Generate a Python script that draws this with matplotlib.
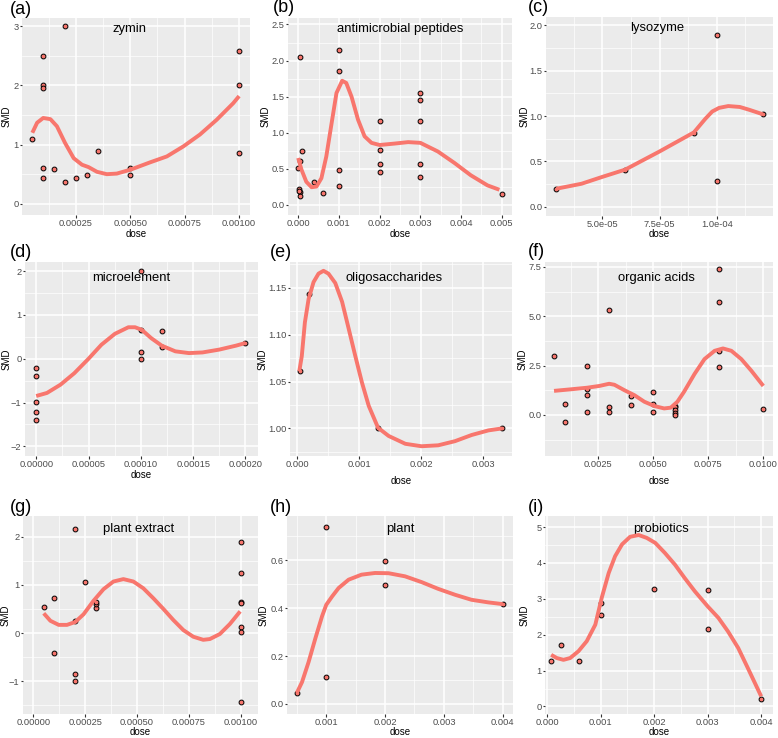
import matplotlib
matplotlib.use("Agg")
import matplotlib.pyplot as plt
from matplotlib.ticker import AutoMinorLocator

plt.rcParams["font.family"] = ["Liberation Sans", "DejaVu Sans"]

# ---- data ----
zymin_dose = [0.00005, 0.0001, 0.0001, 0.0001, 0.0001, 0.0001, 0.00015, 0.0002, 0.0002,
              0.00025, 0.0003, 0.00035, 0.0005, 0.0005, 0.001, 0.001, 0.001]
zymin_smd = [1.09, 2.50, 2.00, 1.96, 0.60, 0.43, 0.59, 3.00, 0.36,
             0.44, 0.49, 0.89, 0.60, 0.49, 2.59, 2.00, 0.86]
zymin_fit_dose = [0.00005, 0.000072, 0.0001, 0.000133, 0.000163, 0.0002, 0.00024, 0.000278,
                  0.000308, 0.000347, 0.000392, 0.000438, 0.0005, 0.000591, 0.000668,
                  0.000744, 0.00082, 0.000897, 0.000973, 0.001]
zymin_fit_smd = [1.20, 1.37, 1.45, 1.43, 1.31, 1.03, 0.77, 0.66, 0.62, 0.54, 0.50, 0.51,
                 0.575, 0.70, 0.80, 0.97, 1.17, 1.42, 1.70, 1.82]

amp_dose = [0.00005, 0.0, 0.00005, 0.0001, 0.00003, 0.00005, 0.00005, 0.00002, 0.0004, 0.0006,
            0.001, 0.001, 0.001, 0.001, 0.002, 0.002, 0.002, 0.002,
            0.003, 0.003, 0.003, 0.003, 0.003, 0.005]
amp_smd = [2.05, 0.51, 0.61, 0.75, 0.22, 0.18, 0.13, 0.19, 0.32, 0.16,
           2.14, 1.85, 0.49, 0.26, 1.16, 0.76, 0.57, 0.45,
           1.55, 1.45, 1.16, 0.57, 0.38, 0.15]
amp_fit_dose = [0.0, 0.00008, 0.0002, 0.00033, 0.00045, 0.00057, 0.00069, 0.00082, 0.00094,
                0.00108, 0.00118, 0.00131, 0.00147, 0.00163, 0.0018, 0.002, 0.00237, 0.0027,
                0.003, 0.00343, 0.00384, 0.00424, 0.00465, 0.00494]
amp_fit_smd = [0.65, 0.49, 0.32, 0.245, 0.255, 0.37, 0.67, 1.13, 1.55, 1.72, 1.69, 1.50,
               1.18, 0.95, 0.86, 0.83, 0.85, 0.87, 0.86, 0.74, 0.58, 0.41, 0.27, 0.21]

lyso_dose = [0.00003, 0.00006, 0.00009, 0.0001, 0.0001, 0.00012]
lyso_smd = [0.20, 0.41, 0.815, 1.89, 0.28, 1.02]
lyso_fit_dose = [0.00003, 0.000041, 0.00005, 0.00006, 0.000075, 0.00009, 0.000095,
                 0.000098, 0.000101, 0.000105, 0.00011, 0.000114, 0.00012]
lyso_fit_smd = [0.20, 0.255, 0.33, 0.41, 0.61, 0.82, 0.97, 1.05, 1.09, 1.11, 1.10, 1.07, 1.02]

micro_dose = [0.0, 0.0, 0.0, 0.0, 0.0, 0.0001, 0.0001, 0.0001, 0.0001, 0.00012, 0.00012, 0.0002]
micro_smd = [-0.21, -0.40, -0.98, -1.21, -1.40, 2.00, 0.66, 0.145, 0.0, 0.64, 0.27, 0.37]
micro_fit_dose = [0.0, 0.0000103, 0.0000233, 0.0000364, 0.00005, 0.0000623, 0.0000752,
                  0.0000881, 0.0000945, 0.000101, 0.00011, 0.00012, 0.000133, 0.000146,
                  0.000159, 0.000175, 0.000191, 0.0002]
micro_fit_smd = [-0.85, -0.78, -0.59, -0.33, 0.0, 0.32, 0.57, 0.72, 0.72, 0.66, 0.47, 0.30,
                 0.17, 0.13, 0.145, 0.21, 0.30, 0.36]

oligo_dose = [0.00004, 0.00019, 0.0013, 0.0033]
oligo_smd = [1.0607, 1.1432, 1.000, 1.000]
oligo_fit_dose = [0.00003, 0.00007, 0.00012, 0.00018, 0.00026, 0.00034, 0.00042, 0.0005,
                  0.00061, 0.00072, 0.00082, 0.00093, 0.00104, 0.00115, 0.0013, 0.00147,
                  0.00174, 0.002, 0.00227, 0.00254, 0.00281, 0.00308, 0.0033]
oligo_fit_smd = [1.061, 1.077, 1.113, 1.138, 1.156, 1.165, 1.168, 1.165, 1.155, 1.135, 1.108,
                 1.078, 1.049, 1.024, 1.0007, 0.992, 0.9836, 0.981, 0.982, 0.9864, 0.993,
                 0.9979, 1.0]

acid_dose = [0.0005, 0.001, 0.001, 0.002, 0.002, 0.002, 0.002, 0.003, 0.003, 0.003,
             0.004, 0.004, 0.005, 0.005, 0.005, 0.006, 0.006, 0.006, 0.006, 0.006,
             0.008, 0.008, 0.008, 0.008, 0.01]
acid_smd = [3.0, 0.53, -0.35, 2.5, 1.33, 1.0, 0.15, 5.33, 0.42, 0.15,
            0.95, 0.5, 1.17, 0.53, 0.15, 0.45, 0.38, 0.25, 0.12, 0.0,
            7.37, 5.7, 3.25, 2.43, 0.32]
acid_fit_dose = [0.0005, 0.00127, 0.002, 0.00256, 0.003, 0.00324, 0.0037, 0.00415, 0.0046,
                 0.00506, 0.0055, 0.0058, 0.0061, 0.0064, 0.00688, 0.00733, 0.00779,
                 0.00817, 0.00855, 0.009, 0.00945, 0.01]
acid_fit_smd = [1.22, 1.30, 1.38, 1.47, 1.58, 1.53, 1.25, 1.0, 0.67, 0.45, 0.33, 0.37, 0.67,
                1.17, 2.08, 2.83, 3.25, 3.37, 3.25, 2.83, 2.25, 1.47]

pext_dose = [0.00005, 0.0001, 0.0001, 0.0002, 0.0002, 0.0002, 0.0002, 0.00025, 0.0003, 0.0003,
             0.0003, 0.001, 0.001, 0.001, 0.001, 0.001, 0.001, 0.001]
pext_smd = [0.55, 0.72, -0.42, 2.15, 0.255, -0.86, -1.0, 1.06, 0.51, 0.60,
            0.65, 1.90, 1.24, 0.65, 0.63, 0.12, 0.03, -1.44]
pext_fit_dose = [0.00005, 0.000082, 0.000122, 0.000162, 0.000202, 0.000242, 0.00029, 0.000338,
                 0.000386, 0.000434, 0.000482, 0.00053, 0.000579, 0.000627, 0.000675,
                 0.000723, 0.000771, 0.000819, 0.000851, 0.000899, 0.000947, 0.000997]
pext_fit_smd = [0.41, 0.255, 0.17, 0.17, 0.23, 0.39, 0.67, 0.91, 1.07, 1.12, 1.07, 0.93, 0.72,
                0.50, 0.27, 0.062, -0.076, -0.14, -0.124, -0.02, 0.186, 0.45]

plant_dose = [0.0005, 0.001, 0.001, 0.002, 0.002, 0.004]
plant_smd = [0.046, 0.737, 0.112, 0.597, 0.498, 0.417]
plant_fit_dose = [0.0005, 0.000588, 0.0007, 0.000814, 0.00093, 0.001, 0.0011, 0.00121, 0.00138,
                  0.0016, 0.00183, 0.00206, 0.00234, 0.00262, 0.0029, 0.00319, 0.00347,
                  0.00376, 0.004]
plant_fit_smd = [0.046, 0.091, 0.175, 0.273, 0.367, 0.414, 0.449, 0.484, 0.519, 0.54, 0.547,
                 0.546, 0.533, 0.509, 0.481, 0.456, 0.435, 0.424, 0.417]

probio_dose = [0.000075, 0.00025, 0.0006, 0.001, 0.001, 0.002, 0.003, 0.003, 0.004]
probio_smd = [1.26, 1.70, 1.26, 2.89, 2.54, 3.28, 3.25, 2.17, 0.21]
probio_fit_dose = [0.000075, 0.00018, 0.000305, 0.00043, 0.000585, 0.00074, 0.0009, 0.00102,
                   0.00115, 0.00127, 0.0014, 0.00155, 0.00171, 0.00186, 0.00202, 0.0022,
                   0.00239, 0.00257, 0.00276, 0.003, 0.0032, 0.00338, 0.00357, 0.00375, 0.004]
probio_fit_smd = [1.44, 1.35, 1.30, 1.35, 1.54, 1.82, 2.28, 3.03, 3.72, 4.19, 4.52, 4.73, 4.78,
                  4.70, 4.56, 4.28, 3.95, 3.58, 3.21, 2.79, 2.47, 2.09, 1.63, 1.07, 0.28]

titles = ["zymin", "antimicrobial peptides", "lysozyme", "microelement", "oligosaccharides",
          "organic acids", "plant extract", "plant", "probiotics"]
letters = ["(a)", "(b)", "(c)", "(d)", "(e)", "(f)", "(g)", "(h)", "(i)"]

zymin_xticks = [0.00025, 0.0005, 0.00075, 0.001]
zymin_yticks = [0, 1, 2, 3]
amp_xticks = [0.0, 0.001, 0.002, 0.003, 0.004, 0.005]
amp_yticks = [0.0, 0.5, 1.0, 1.5, 2.0, 2.5]
lyso_xticks = [0.00005, 0.000075, 0.0001]
lyso_xlabels = ["5.0e-05", "7.5e-05", "1.0e-04"]
lyso_yticks = [0.0, 0.5, 1.0, 1.5, 2.0]
micro_xticks = [0.0, 0.00005, 0.0001, 0.00015, 0.0002]
micro_yticks = [-2, -1, 0, 1, 2]
oligo_xticks = [0.0, 0.001, 0.002, 0.003]
oligo_yticks = [1.00, 1.05, 1.10, 1.15]
acid_xticks = [0.0025, 0.005, 0.0075, 0.01]
acid_yticks = [0.0, 2.5, 5.0, 7.5]
pext_xticks = [0.0, 0.00025, 0.0005, 0.00075, 0.001]
pext_yticks = [-1, 0, 1, 2]
plant_xticks = [0.001, 0.002, 0.003, 0.004]
plant_yticks = [0.0, 0.2, 0.4, 0.6]
probio_xticks = [0.0, 0.001, 0.002, 0.003, 0.004]
probio_yticks = [0, 1, 2, 3, 4, 5]


def fmt(values, pattern):
    return [(pattern % v).replace("-", "\u2212") for v in values]


# (points, fit, xticks, xlabels, yticks, ylabels, xlim, ylim)
panels = [
    (zymin_dose, zymin_smd, zymin_fit_dose, zymin_fit_smd, zymin_xticks, fmt(zymin_xticks, "%.5f"),
     zymin_yticks, fmt(zymin_yticks, "%d"), (0.0000025, 0.00105), (-0.19, 3.14)),
    (amp_dose, amp_smd, amp_fit_dose, amp_fit_smd, amp_xticks, fmt(amp_xticks, "%.3f"),
     amp_yticks, fmt(amp_yticks, "%.1f"), (-0.00025, 0.00525), (-0.14, 2.59)),
    (lyso_dose, lyso_smd, lyso_fit_dose, lyso_fit_smd, lyso_xticks, lyso_xlabels,
     lyso_yticks, fmt(lyso_yticks, "%.1f"), (0.0000255, 0.0001245), (-0.10, 2.09)),
    (micro_dose, micro_smd, micro_fit_dose, micro_fit_smd, micro_xticks, fmt(micro_xticks, "%.5f"),
     micro_yticks, fmt(micro_yticks, "%d"), (-0.0000107, 0.000212), (-2.22, 2.21)),
    (oligo_dose, oligo_smd, oligo_fit_dose, oligo_fit_smd, oligo_xticks, fmt(oligo_xticks, "%.3f"),
     oligo_yticks, fmt(oligo_yticks, "%.2f"), (-0.00012, 0.00346), (0.9706, 1.1774)),
    (acid_dose, acid_smd, acid_fit_dose, acid_fit_smd, acid_xticks, fmt(acid_xticks, "%.4f"),
     acid_yticks, fmt(acid_yticks, "%.1f"), (0.00009, 0.01044), (-2.08, 7.75)),
    (pext_dose, pext_smd, pext_fit_dose, pext_fit_smd, pext_xticks, fmt(pext_xticks, "%.5f"),
     pext_yticks, fmt(pext_yticks, "%d"), (-0.00005, 0.001083), (-1.68, 2.43)),
    (plant_dose, plant_smd, plant_fit_dose, plant_fit_smd, plant_xticks, fmt(plant_xticks, "%.3f"),
     plant_yticks, fmt(plant_yticks, "%.1f"), (0.000333, 0.004175), (-0.042, 0.785)),
    (probio_dose, probio_smd, probio_fit_dose, probio_fit_smd, probio_xticks, fmt(probio_xticks, "%.3f"),
     probio_yticks, fmt(probio_yticks, "%d"), (-0.00004, 0.00422), (-0.21, 5.31)),
]

# ---- layout (pixels, top-left origin) ----
W, H = 778, 738
boxes = [(22, 18, 250, 215), (288, 18, 512, 215), (546, 17, 773, 216),
         (25, 262, 258, 456), (290, 262, 512, 456), (545, 262, 773, 456),
         (23, 516, 258, 714), (287, 516, 513, 714), (545, 516, 773, 714)]
title_pos = [(0.47, 0.944), (0.50, 0.944), (0.49, 0.944),
             (0.455, 0.918), (0.47, 0.918), (0.49, 0.918),
             (0.49, 0.934), (0.50, 0.934), (0.51, 0.934)]
letter_pos = [(10, 9), (273, 8), (528, 8), (10, 252), (270, 252), (528, 251),
              (10, 507), (270, 507), (528, 507)]
# centre of the "SMD" label (x) and the "dose" label (y), in pixels
ylab_x = [7, 266, 525, 7, 263, 523, 6, 264, 525]
xlab_y = [234, 234, 234, 475, 481, 481, 732, 732, 732]

RED = "#F8766D"

fig = plt.figure(figsize=(7.78, 7.38), dpi=100)

for i, (px, py, fx, fy, xt, xl, yt, yl, xlim, ylim) in enumerate(panels):
    x0, y0, x1, y1 = boxes[i]
    ax = fig.add_axes([x0 / W, 1 - y1 / H, (x1 - x0) / W, (y1 - y0) / H])
    ax.set_facecolor("#EBEBEB")
    for s in ax.spines.values():
        s.set_visible(False)
    ax.set_xticks(xt, xl)
    ax.set_yticks(yt, yl)
    ax.set_xlim(*xlim)
    ax.set_ylim(*ylim)
    ax.xaxis.set_minor_locator(AutoMinorLocator(2))
    ax.yaxis.set_minor_locator(AutoMinorLocator(2))
    ax.grid(which="major", color="white", lw=1.1)
    ax.grid(which="minor", color="white", lw=0.5)
    ax.set_axisbelow(True)
    ax.tick_params(which="major", length=1.8, width=0.8, color="#333333",
                   labelsize=6.7, labelcolor="#4D4D4D", pad=0.8)
    ax.tick_params(which="minor", length=0)

    ax.scatter(px, py, s=12, c=RED, edgecolors="black", linewidths=0.7, zorder=3)
    ax.plot(fx, fy, color=RED, lw=2.8, zorder=4, solid_capstyle="butt")

    ax.set_xlabel("dose", fontsize=7)
    ax.set_ylabel("SMD", fontsize=7)
    ax.xaxis.label.set_va("center")
    ax.yaxis.label.set_va("center")
    ax.xaxis.set_label_coords(0.5, (y1 - xlab_y[i]) / (y1 - y0))
    ax.yaxis.set_label_coords((ylab_x[i] - x0) / (x1 - x0), 0.5)

    tx, ty = title_pos[i]
    ax.text(tx, ty, titles[i], transform=ax.transAxes, ha="center", va="center", fontsize=9.4)

    lx, ly = letter_pos[i]
    fig.text(lx / W, 1 - ly / H, letters[i], fontsize=13, ha="left", va="center")

fig.savefig("out.png", dpi=100, facecolor="white")
